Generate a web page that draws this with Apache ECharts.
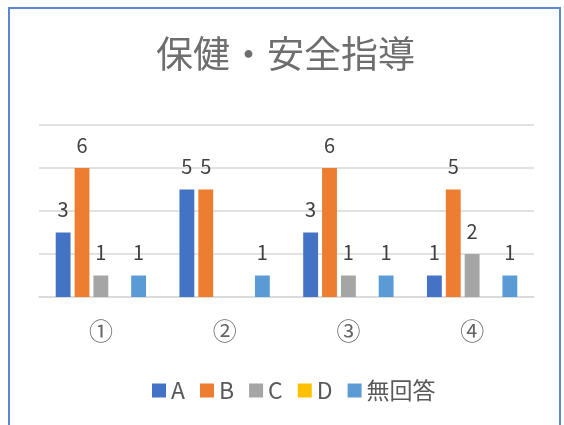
<!DOCTYPE html>
<html>
<head>
<meta charset="utf-8">
<script src="https://cdn.jsdelivr.net/npm/echarts@6/dist/echarts.min.js"></script>
<style>
html,body{margin:0;padding:0;background:#fff;}
#frame{position:absolute;left:8px;top:7px;width:553px;height:430px;border:2px solid #5a88d6;box-sizing:border-box;}
#main{position:absolute;left:0;top:0;width:564px;height:425px;}
</style>
</head>
<body>
<div id="frame"></div>
<div id="main"></div>
<script>
const titleText = '保健・安全指導';
const categories = ['①', '②', '③', '④'];
const seriesNames = ['A', 'B', 'C', 'D', '無回答'];
const valuesA = [3, 5, 3, 1];
const valuesB = [6, 5, 6, 5];
const valuesC = [1, 0, 1, 2];
const valuesD = [0, 0, 0, 0];
const valuesNone = [1, 1, 1, 1];
const colors = ['#4472C4', '#ED7D31', '#A5A5A5', '#FFC000', '#5B9BD5'];

const allValues = [valuesA, valuesB, valuesC, valuesD, valuesNone];
const FONT = '"Noto Sans CJK JP", "Noto Sans", sans-serif';

const chart = echarts.init(document.getElementById('main'), null, {renderer: 'canvas'});
chart.setOption({
  animation: false,
  color: colors,
  title: {
    text: titleText,
    left: 156,
    top: 35,
    padding: 0,
    textStyle: {fontFamily: FONT, fontSize: 37, fontWeight: 'normal', color: '#6e6e6e'}
  },
  legend: {
    bottom: 18,
    left: 147,
    itemWidth: 14,
    itemHeight: 14,
    itemGap: 15,
    icon: 'rect',
    textStyle: {fontFamily: FONT, fontSize: 23, color: '#595959'},
    data: seriesNames
  },
  grid: {left: 39, right: 30, top: 125, bottom: 128},
  xAxis: {
    type: 'category',
    data: categories,
    axisLine: {show: true, lineStyle: {color: '#D9D9D9', width: 1.5}},
    axisTick: {show: false},
    axisLabel: {fontFamily: FONT, fontSize: 24, color: '#666666', margin: 22}
  },
  yAxis: {
    type: 'value',
    min: 0,
    max: 8,
    interval: 2,
    axisLine: {show: false},
    axisTick: {show: false},
    axisLabel: {show: false},
    splitLine: {lineStyle: {color: '#D9D9D9', width: 1.5}}
  },
  series: seriesNames.map((name, i) => ({
    name: name,
    type: 'bar',
    data: allValues[i],
    barGap: '27%',
    barCategoryGap: '27%',
    label: {
      show: true,
      position: 'top',
      distance: 13,
      fontFamily: FONT,
      fontSize: 20,
      color: '#404040',
      formatter: p => (p.value === 0 ? '' : p.value)
    }
  }))
});
</script>
</body>
</html>
